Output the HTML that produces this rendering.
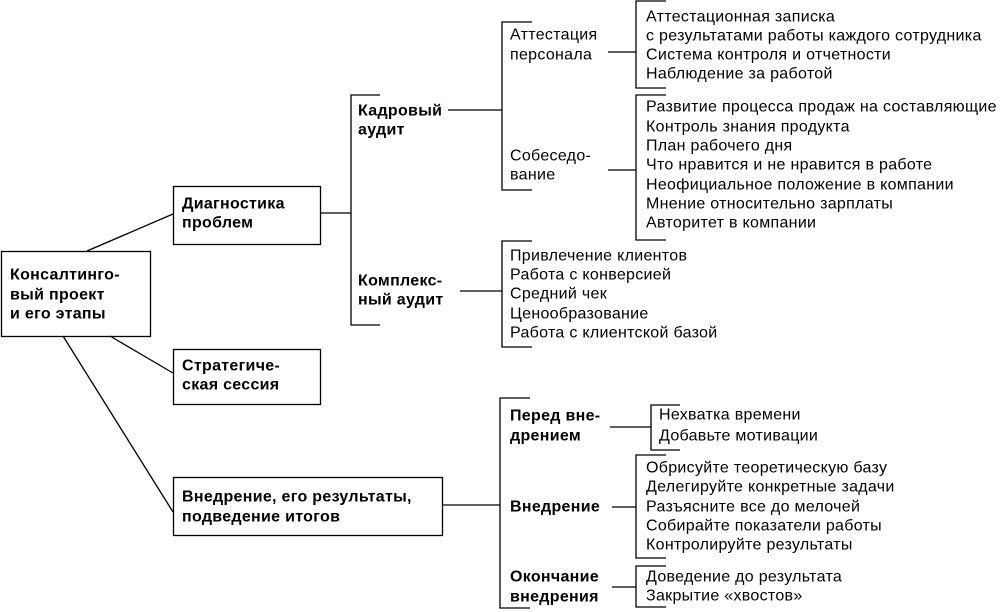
<!DOCTYPE html>
<html><head><meta charset="utf-8"><style>
html,body{margin:0;padding:0;background:#fff}
svg{display:block}
text{font-family:"Liberation Sans",Arial,sans-serif;font-size:16px;letter-spacing:0.3px;fill:#000;dominant-baseline:central}
.b{font-weight:bold;letter-spacing:0.3px}
</style></head><body>
<svg width="1000" height="612" viewBox="0 0 1000 612" xmlns="http://www.w3.org/2000/svg">
<g fill="none" stroke="#000" stroke-width="1.3">
<rect x="1.5" y="251.5" width="149" height="85"/>
<rect x="173.5" y="186.5" width="147" height="58"/>
<rect x="173.5" y="349.5" width="147" height="55"/>
<rect x="173.5" y="477.5" width="269" height="58"/>
<line x1="87" y1="251" x2="173" y2="214"/>
<line x1="110" y1="336" x2="173" y2="373"/>
<line x1="63" y1="336" x2="173" y2="512"/>
<line x1="321" y1="213" x2="351" y2="213"/>
<polyline points="380,95 351,95 351,325 380,325"/>
<line x1="448" y1="110" x2="502" y2="110"/>
<line x1="460" y1="291" x2="502" y2="291"/>
<polyline points="532,22 502,22 502,190 532,190"/>
<line x1="608" y1="52" x2="636" y2="52"/>
<line x1="608" y1="170" x2="636" y2="170"/>
<polyline points="666,1 636,1 636,88 666,88"/>
<polyline points="666,95 636,95 636,240 666,240"/>
<polyline points="532,241 502,241 502,347 532,347"/>
<line x1="443" y1="505" x2="500" y2="505"/>
<polyline points="530,398 500,398 500,608 530,608"/>
<line x1="610" y1="427" x2="651" y2="427"/>
<polyline points="680,405 651,405 651,450 680,450"/>
<line x1="612" y1="507" x2="636" y2="507"/>
<polyline points="666,455 636,455 636,558 666,558"/>
<line x1="612" y1="587" x2="636" y2="587"/>
<polyline points="666,566 636,566 636,607 666,607"/>
</g>
<text class="b" x="10" y="275">Консалтинго-</text>
<text class="b" x="10" y="295">вый проект</text>
<text class="b" x="10" y="314">и его этапы</text>
<text class="b" x="182" y="204">Диагностика</text>
<text class="b" x="182" y="223">проблем</text>
<text class="b" x="182" y="366">Стратегиче-</text>
<text class="b" x="182" y="385">ская сессия</text>
<text class="b" x="182" y="497">Внедрение, его результаты,</text>
<text class="b" x="182" y="517">подведение итогов</text>
<text class="b" x="358" y="111">Кадровый</text>
<text class="b" x="358" y="130">аудит</text>
<text class="b" x="358" y="281">Комплекс-</text>
<text class="b" x="358" y="300">ный аудит</text>
<text class="b" x="510" y="416">Перед вне-</text>
<text class="b" x="510" y="436">дрением</text>
<text class="b" x="510" y="507">Внедрение</text>
<text class="b" x="510" y="577">Окончание</text>
<text class="b" x="510" y="597">внедрения</text>
<text x="510" y="35">Аттестация</text>
<text x="510" y="55">персонала</text>
<text x="510" y="156">Собеседо-</text>
<text x="510" y="175">вание</text>
<text x="646" y="17">Аттестационная записка</text>
<text x="646" y="36">с результатами работы каждого сотрудника</text>
<text x="646" y="55">Система контроля и отчетности</text>
<text x="646" y="74">Наблюдение за работой</text>
<text x="646" y="107">Развитие процесса продаж на составляющие</text>
<text x="646" y="127">Контроль знания продукта</text>
<text x="646" y="146">План рабочего дня</text>
<text x="646" y="165">Что нравится и не нравится в работе</text>
<text x="646" y="185">Неофициальное положение в компании</text>
<text x="646" y="204">Мнение относительно зарплаты</text>
<text x="646" y="223">Авторитет в компании</text>
<text x="510" y="256">Привлечение клиентов</text>
<text x="510" y="275">Работа с конверсией</text>
<text x="510" y="294">Средний чек</text>
<text x="510" y="314">Ценообразование</text>
<text x="510" y="333">Работа с клиентской базой</text>
<text x="659" y="415">Нехватка времени</text>
<text x="659" y="436">Добавьте мотивации</text>
<text x="646" y="468">Обрисуйте теоретическую базу</text>
<text x="646" y="487">Делегируйте конкретные задачи</text>
<text x="646" y="507">Разъясните все до мелочей</text>
<text x="646" y="526">Собирайте показатели работы</text>
<text x="646" y="545">Контролируйте результаты</text>
<text x="646" y="577">Доведение до результата</text>
<text x="646" y="596">Закрытие «хвостов»</text>
</svg>
</body></html>
